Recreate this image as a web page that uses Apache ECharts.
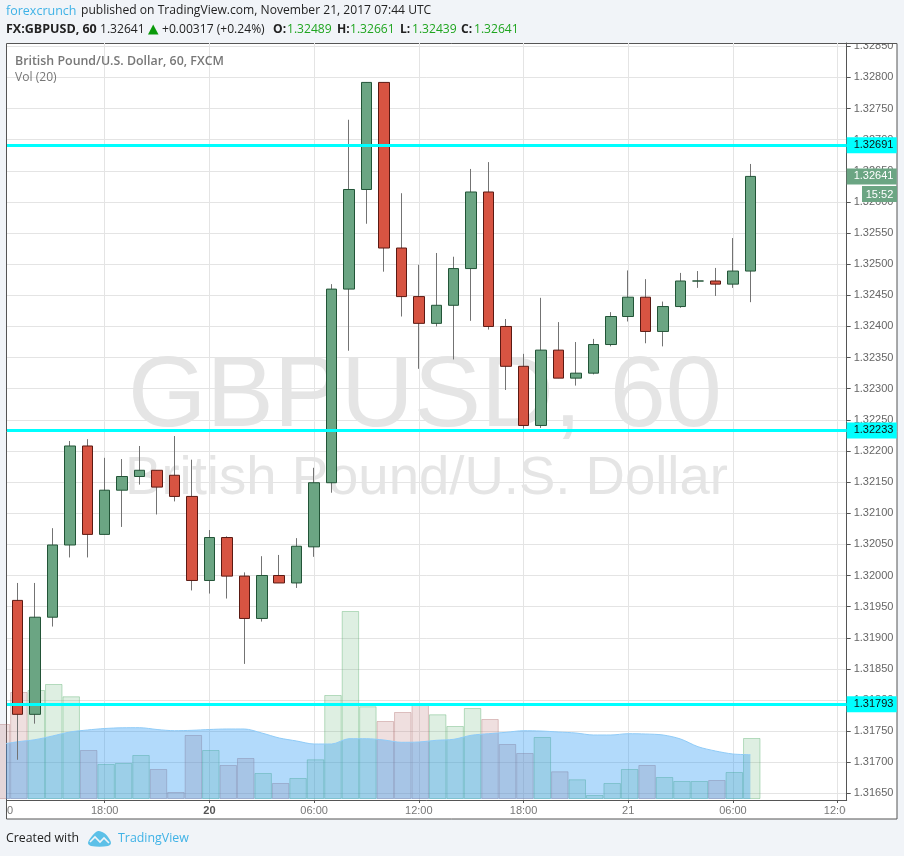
<!DOCTYPE html>
<html><head><meta charset="utf-8">
<style>html,body{margin:0;padding:0;background:#f1f4f8}#c{width:904px;height:856px}</style>
<script src="https://cdn.jsdelivr.net/npm/echarts@6/dist/echarts.min.js"></script>
</head><body><div id="c"></div>
<script>
// Candles, hour by hour, first bar is index 0
const opens  = [1.31960,1.31777,1.31933,1.32049,1.32208,1.32066,1.32137,1.32159,1.32169,1.32161,1.32127,1.31992,1.32061,1.31999,1.31931,1.32000,1.31988,1.32046,1.32149,1.32460,1.32620,1.32792,1.32526,1.32448,1.32405,1.32434,1.32493,1.32616,1.32400,1.32336,1.32241,1.32362,1.32317,1.32325,1.32371,1.32416,1.32447,1.32392,1.32432,1.32473,1.32473,1.32468,1.32489];
const closes = [1.31777,1.31933,1.32049,1.32208,1.32066,1.32137,1.32159,1.32169,1.32142,1.32127,1.31992,1.32061,1.31999,1.31931,1.32000,1.31988,1.32047,1.32149,1.32460,1.32620,1.32792,1.32526,1.32448,1.32405,1.32434,1.32493,1.32616,1.32400,1.32336,1.32241,1.32362,1.32317,1.32325,1.32371,1.32416,1.32447,1.32392,1.32432,1.32473,1.32473,1.32468,1.32489,1.32641];
const lows   = [1.31704,1.31762,1.31918,1.32029,1.32029,1.32066,1.32078,1.32146,1.32098,1.32119,1.31976,1.31971,1.31963,1.31858,1.31926,1.31988,1.31980,1.32030,1.32133,1.32361,1.32565,1.32488,1.32416,1.32332,1.32400,1.32347,1.32409,1.32395,1.32298,1.32236,1.32237,1.32317,1.32305,1.32323,1.32368,1.32408,1.32373,1.32368,1.32430,1.32462,1.32449,1.32462,1.32439];
const highs  = [1.31988,1.31988,1.32076,1.32216,1.32219,1.32189,1.32187,1.32208,1.32169,1.32224,1.32186,1.32073,1.32063,1.32005,1.32031,1.32033,1.32060,1.32173,1.32468,1.32732,1.32792,1.32792,1.32614,1.32499,1.32518,1.32512,1.32653,1.32664,1.32412,1.32356,1.32446,1.32407,1.32375,1.32380,1.32423,1.32490,1.32476,1.32440,1.32486,1.32489,1.32494,1.32542,1.32661];
// Volume, first entry is the bar before index 0
const volumes = [750,1070,1090,1150,1027,490,350,360,440,300,70,640,490,340,410,260,160,210,397,1040,1880,927,780,870,940,847,730,910,800,550,460,620,277,197,40,160,300,340,220,180,180,190,270,610];
const volumeMA = [545,572,593,630,670,690,705,712,713,695,683,687,695,700,700,660,610,580,550,550,603,603,590,567,570,587,597,637,653,667,683,680,670,660,640,640,653,650,640,600,523,480,450,443];
const priceTicks = [1.3165,1.317,1.3175,1.318,1.3185,1.319,1.3195,1.32,1.3205,1.321,1.3215,1.322,1.3225,1.323,1.3235,1.324,1.3245,1.325,1.3255,1.326,1.3265,1.327,1.3275,1.328,1.3285];
const hourTicks = [5,11,17,23,29,35,41,47];
const hourLabels = ['18:00','20','06:00','12:00','18:00','21','06:00','12:00'];
const levels = [1.32691,1.32233,1.31793];
const lastPrice = 1.32641;

const upFill='#6ba583',upLine='#225437',dnFill='#d75442',dnLine='#5b1a13';
const xMin=-0.6,xMax=47.52,volShift=0.08;
const idx=opens.map((_,i)=>i);
const wicks=idx.map(i=>[i,opens[i],closes[i],lows[i],highs[i]]);
const bodies=idx.map(i=>[i,opens[i],closes[i],Math.min(opens[i],closes[i]),Math.max(opens[i],closes[i])]);
const isUp=i=>i<0?false:closes[i]>=opens[i];
const volData=volumes.map((v,k)=>{const up=isUp(k-1);return{value:[k-1,v],itemStyle:{color:up?'rgba(90,175,110,0.2)':'rgba(190,120,120,0.24)',borderColor:up?'rgba(90,175,110,0.4)':'rgba(170,100,100,0.35)',borderWidth:1}}});
const maData=volumeMA.map((v,k)=>[k-1,v]);
const sans='"Open Sans","Noto Sans",sans-serif', ar='"Liberation Sans",Arial,sans-serif';
const T=(x,y,text,o={})=>({type:'text',x,y,silent:true,z:o.z||20,style:{text,fill:o.c||'#222',font:(o.w||'normal')+' '+(o.s||12.1)+'px '+(o.f||sans),textVerticalAlign:'middle',textAlign:o.a||'left'}});
const G='#1fa51f';
const chart=echarts.init(document.getElementById('c'),null,{renderer:'canvas'});
chart.setOption({
 animation:false,backgroundColor:'#f1f4f8',
 grid:{left:7,top:43,width:839.7,height:757,show:false},
 xAxis:[
  {type:'value',min:xMin,max:xMax,position:'bottom',
   axisLine:{onZero:false,lineStyle:{color:'#555',width:1}},
   axisTick:{customValues:hourTicks,length:3,lineStyle:{color:'#555'}},
   axisLabel:{customValues:hourTicks,margin:5,color:'#777',fontFamily:ar,fontSize:11,hideOverlap:false,showMinLabel:true,showMaxLabel:true,
     formatter:v=>{const s=hourLabels[hourTicks.indexOf(v)];return s==='20'?'{b|20}':s},rich:{b:{fontWeight:'bold',color:'#555',fontFamily:ar,fontSize:11}}},
   splitLine:{show:true,lineStyle:{color:'#e4e4e4',width:1}}},
  {type:'value',min:xMin-volShift,max:xMax-volShift,show:false,splitLine:{show:false}}
 ],
 yAxis:[
  {type:'value',min:1.316394,max:1.328553,position:'right',scale:true,
   axisLine:{show:true,onZero:false,lineStyle:{color:'#555'}},
   axisTick:{show:true,customValues:priceTicks,length:4,lineStyle:{color:'#555'}},
   axisLabel:{customValues:priceTicks,margin:7,color:'#666',fontFamily:ar,fontSize:11,formatter:v=>v.toFixed(5)},
   splitLine:{show:true,lineStyle:{color:'#e4e4e4',width:1}}},
  {type:'value',min:-10,max:7560,show:false,splitLine:{show:false}}
 ],
 series:[
  {type:'bar',name:'Volume',xAxisIndex:1,yAxisIndex:1,barWidth:17.45,data:volData,z:1,clip:true},
  {type:'line',name:'Vol MA',xAxisIndex:0,yAxisIndex:1,data:maData,symbol:'none',smooth:0.3,z:2,clip:true,
   lineStyle:{color:'#8fcbf7',width:1},areaStyle:{color:'rgba(33,150,243,0.35)',opacity:1}},
  {type:'candlestick',name:'Wicks',xAxisIndex:0,yAxisIndex:0,barWidth:1,data:wicks,encode:{x:0,y:[1,2,3,4]},z:3,
   itemStyle:{color:'#737373',color0:'#737373',borderColor:'#737373',borderColor0:'#737373',borderColorDoji:'#737373',borderWidth:1}},
  {type:'candlestick',name:'GBPUSD',xAxisIndex:0,yAxisIndex:0,barWidth:11,data:bodies,encode:{x:0,y:[1,2,3,4]},z:4,
   itemStyle:{color:upFill,color0:dnFill,borderColor:upLine,borderColor0:dnLine,borderColorDoji:upLine,borderWidth:1}},
  {type:'line',name:'Levels',xAxisIndex:0,yAxisIndex:0,data:[],z:6,
   markLine:{silent:true,symbol:'none',animation:false,precision:5,
    lineStyle:{color:'#00ffff',width:3,type:'solid'},
    label:{show:true,position:'end',distance:0,formatter:p=>p.value.toFixed(5),color:'#111',fontFamily:ar,fontSize:11,backgroundColor:'#00ffff',padding:[2,3,2,7],width:40,height:12,lineHeight:12,align:'left'},
    data:levels.map(v=>({yAxis:v}))}},
  {type:'line',name:'Last',xAxisIndex:0,yAxisIndex:0,data:[],z:6,
   markLine:{silent:true,symbol:'none',animation:false,precision:5,
    lineStyle:{color:'transparent',width:1},
    label:{show:true,position:'end',distance:0,formatter:p=>p.value.toFixed(5),color:'#fff',fontFamily:ar,fontSize:11,backgroundColor:upFill,padding:[2,3,2,7],width:40,height:12,lineHeight:12,align:'left'},
    data:[{yAxis:lastPrice}]}}
 ],
 graphic:{elements:[
  {type:'rect',z:-10,silent:true,shape:{x:6.5,y:43.5,width:890.5,height:775.5},style:{fill:'#fff',stroke:'#555',lineWidth:1}},
  {type:'text',z:-5,silent:true,x:425,y:398,style:{text:'GBPUSD, 60',fill:'#e5e5e5',font:'100.8px '+ar,textAlign:'center',textVerticalAlign:'middle'}},
  {type:'text',z:-5,silent:true,x:426.5,y:479,style:{text:'British Pound/U.S. Dollar',fill:'#e5e5e5',font:'54.5px '+ar,textAlign:'center',textVerticalAlign:'middle'}},
  {type:'rect',silent:true,z:19,shape:{x:847,y:36,width:52,height:7},style:{fill:'#f1f4f8'}},
  {type:'line',silent:true,z:19,shape:{x1:847,y1:43.5,x2:897,y2:43.5},style:{stroke:'#555',lineWidth:1}},
  {type:'rect',silent:true,z:19,shape:{x:845.6,y:802,width:12,height:16},style:{fill:'#fff'}},
  T(6,11,'forexcrunch',{c:'#3fb2e6',s:12.5}),
  T(81,11,'published on TradingView.com, November 21, 2017 07:44 UTC'),
  T(6,29.5,'FX:GBPUSD, 60',{w:'bold',s:12.5}),
  T(100,29.5,'1.32641'),
  {type:'polygon',silent:true,z:20,shape:{points:[[148,34.5],[158.5,34.5],[153.2,24.5]]},style:{fill:'#0a9a0a'}},
  T(162,29.5,'+0.00317 (+0.24%)'),
  T(273,29.5,'O:',{w:'bold'}),T(287,29.5,'1.32489',{c:G}),
  T(337,29.5,'H:',{w:'bold'}),T(350,29.5,'1.32661',{c:G}),
  T(400,29.5,'L:',{w:'bold'}),T(412,29.5,'1.32439',{c:G}),
  T(461,29.5,'C:',{w:'bold'}),T(474,29.5,'1.32641',{c:G}),
  T(15,61,'British Pound/U.S. Dollar, 60, FXCM',{w:'600',c:'#777',s:12.4}),
  T(15,78,'Vol (20)',{c:'#777'}),
  T(7,811,'0',{c:'#777',s:11,f:ar}),
  {type:'rect',silent:true,z:20,shape:{x:862,y:186,width:35,height:16},style:{fill:upFill}},
  T(879.5,194.5,'15:52',{c:'#fff',s:11,f:ar,a:'center'}),
  T(6,838.5,'Created with',{s:12.3}),
  {type:'polygon',silent:true,z:20,shape:{smooth:0.35,points:[[88,843],[92,836],[98,831],[104,833],[108,837],[111,843],[108,846],[91,846]]},style:{fill:'#5cc0e8'}},
  {type:'polyline',silent:true,z:21,shape:{points:[[90,842],[95,837],[100,842],[104,838],[109,843]]},style:{stroke:'#f1f4f8',fill:null,lineWidth:1.6}},
  T(118,838.5,'TradingView',{c:'#3fb2e6',s:12.4})
 ]}
});
</script></body></html>
